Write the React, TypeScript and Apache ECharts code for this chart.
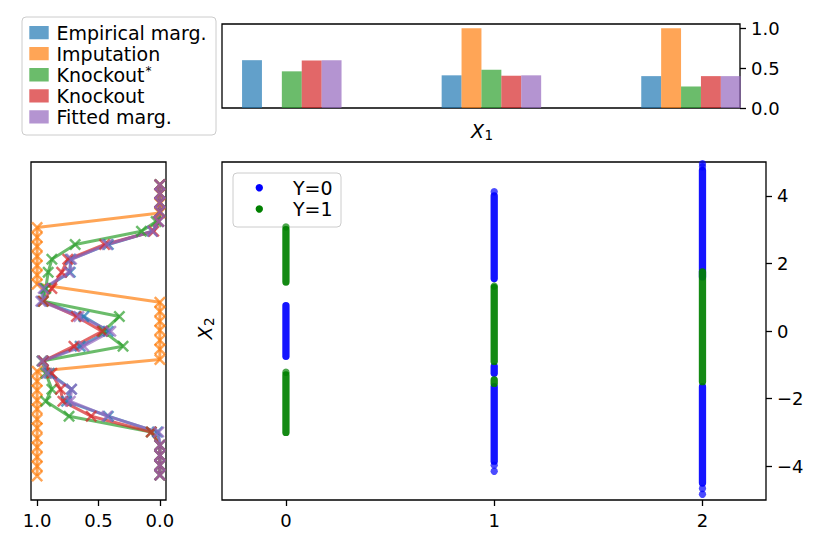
import React, { useEffect, useRef } from "react";
import * as echarts from "echarts";

const FONT = "DejaVu Sans";

// ---------- Top panel: bars per X1 category ----------
const x1Categories = [0, 1, 2];
const empiricalBars = [0.6, 0.41, 0.4];
const imputationBars = [0, 1.0, 1.0];
const knockoutStarBars = [0.46, 0.48, 0.27];
const knockoutBars = [0.595, 0.405, 0.4];
const fittedBars = [0.6, 0.41, 0.4];
const barTicksY = [0, 0.5, 1.0];

const methodNames = ["Empirical marg.", "Imputation", "Knockout*", "Knockout", "Fitted marg."];
const methodColors = [
  "rgba(31,119,180,0.7)",
  "rgba(255,127,14,0.7)",
  "rgba(44,160,44,0.7)",
  "rgba(214,39,40,0.7)",
  "rgba(148,103,189,0.7)",
];

// ---------- Left panel: profiles along X2 ----------
const profileY = [4.33, 4.07, 3.8, 3.53, 3.24, 2.95, 2.56, 2.12, 1.74, 1.26, 0.88, 0.43, -0.01, -0.45, -0.89, -1.25, -1.72, -2.08, -2.52, -2.99, -3.38, -3.68, -3.97, -4.26];
const empiricalProfile = [0, 0, 0, 0, 0.01, 0.06, 0.42, 0.73, 0.73, 0.94, 0.96, 0.62, 0.42, 0.65, 0.95, 0.9, 0.72, 0.76, 0.42, 0.02, 0, 0, 0, 0];
const knockoutStarProfile = [0, 0, 0, 0, 0.03, 0.15, 0.69, 0.88, 0.91, 0.93, 0.95, 0.33, 0.46, 0.3, 0.96, 0.93, 0.88, 0.93, 0.74, 0.07, 0, 0, 0, 0];
const knockoutProfile = [0, 0, 0, 0, 0.01, 0.05, 0.45, 0.75, 0.8, 0.88, 0.95, 0.68, 0.47, 0.7, 0.95, 0.88, 0.81, 0.79, 0.56, 0.07, 0, 0, 0, 0];
const fittedProfile = [0, 0, 0, 0, 0.01, 0.06, 0.43, 0.72, 0.74, 0.95, 0.97, 0.66, 0.4, 0.62, 0.96, 0.92, 0.72, 0.73, 0.43, 0.01, 0, 0, 0, 0];
const imputationY = [4.33, 4.05, 3.77, 3.49, 3.06, 2.77, 2.5, 2.21, 1.94, 1.66, 1.38, 0.85, 0.58, 0.29, 0.02, -0.27, -0.54, -0.84, -1.19, -1.49, -1.75, -2.05, -2.31, -2.61, -2.87, -3.17, -3.44, -3.73, -4.0, -4.29];
const imputationProfile = [0, 0, 0, 0, 1, 1, 1, 1, 1, 1, 1, 0, 0, 0, 0, 0, 0, 0, 1, 1, 1, 1, 1, 1, 1, 1, 1, 1, 1, 1];
const profileTicksX = [0, 0.5, 1.0];

// ---------- Main scatter: X1 vs X2 coloured by Y ----------
const y0StripeX = [0, 1, 1, 1, 2, 2];
const y0StripeLow = [-0.75, 1.55, -1.25, -3.85, 1.6, -4.5];
const y0StripeHigh = [0.75, 4.0, -1.05, -1.65, 4.75, -1.65];
const y0DotX = [1, 1, 1, 2, 2, 2, 2];
const y0DotY = [4.12, -3.97, -4.15, 4.95, 4.86, -4.66, -4.83];
const y1StripeX = [0, 0, 1, 1, 2];
const y1StripeLow = [1.45, -3.0, -0.9, -1.55, -1.5];
const y1StripeHigh = [3.0, -1.3, 1.28, -1.45, 1.75];
const y1DotX = [0, 0, 1];
const y1DotY = [3.08, -1.22, 1.33];
const scatterTicksX = [0, 1, 2];
const scatterTicksY = [-4, -2, 0, 2, 4];

const X_SYMBOL = "path://M0,1.45L1.45,0L10,8.55L8.55,10ZM8.55,0L10,1.45L1.45,10L0,8.55Z";

const tickStyle = { color: "#000", width: 1.3 };
const labelBase = { color: "#000", fontFamily: FONT, fontSize: 18 };

function profileSeries(name: string, ys: number[], vals: number[], color: string) {
  return {
    type: "line",
    name,
    xAxisIndex: 1,
    yAxisIndex: 1,
    data: vals.map((v, i) => [v, ys[i]]),
    symbol: X_SYMBOL,
    symbolSize: 12,
    showAllSymbol: true,
    lineStyle: { color, width: 3 },
    itemStyle: { color },
    emphasis: { disabled: true },
  };
}

function stripeSeries(name: string, xs: number[], lows: number[], highs: number[], color: string) {
  return {
    type: "custom",
    name,
    xAxisIndex: 2,
    yAxisIndex: 2,
    clip: true,
    encode: { x: 0, y: [1, 2] },
    data: xs.map((x, i) => [x, lows[i], highs[i]]),
    renderItem: (_p: any, api: any) => {
      const a = api.coord([api.value(0), api.value(1)]);
      const b = api.coord([api.value(0), api.value(2)]);
      return {
        type: "line",
        shape: { x1: a[0], y1: a[1], x2: b[0], y2: b[1] },
        style: { stroke: color, lineWidth: 7.3, lineCap: "round", opacity: 0.92 },
      };
    },
  };
}

function dotSeries(name: string, xs: number[], ys: number[], color: string) {
  return {
    type: "scatter",
    name,
    xAxisIndex: 2,
    yAxisIndex: 2,
    data: xs.map((x, i) => [x, ys[i]]),
    symbolSize: 7.3,
    itemStyle: { color, opacity: 0.7 },
    emphasis: { disabled: true },
  };
}

function barSeries(name: string, vals: number[], color: string) {
  return {
    type: "bar",
    name,
    xAxisIndex: 0,
    yAxisIndex: 0,
    data: x1Categories.map((c, i) => [c, vals[i]]),
    barWidth: 19.9,
    barGap: "0%",
    itemStyle: { color },
    emphasis: { disabled: true },
  };
}

const legendRows = [32.6, 53.6, 74.8, 96, 117];

function legendText(name: string) {
  if (name.endsWith("*")) {
    return {
      text: "{a|" + name.slice(0, -1) + "}{b|*}",
      rich: {
        a: { fontSize: 19, fontFamily: FONT, fill: "#000", lineHeight: 19 },
        b: { fontSize: 12, fontFamily: FONT, fill: "#000", lineHeight: 12, verticalAlign: "top", padding: [0, 0, 0, 1] },
      },
    };
  }
  return { text: name };
}

function buildGraphics() {
  const g: any[] = [];
  g.push({
    type: "rect",
    shape: { x: 22, y: 17, width: 194, height: 118, r: 4 },
    style: { fill: "rgba(255,255,255,0.8)", stroke: "#cccccc", lineWidth: 1 },
  });
  methodNames.forEach((n, i) => {
    g.push({
      type: "rect",
      shape: { x: 29.3, y: legendRows[i] - 6.7, width: 19.4, height: 13.3 },
      style: { fill: methodColors[i] },
    });
    g.push({
      type: "text",
      x: 56.5,
      y: legendRows[i],
      style: {
        fontSize: 19,
        fontFamily: FONT,
        fill: "#000",
        align: "left",
        verticalAlign: "middle",
        ...legendText(n),
      },
    });
  });
  // scatter legend
  g.push({
    type: "rect",
    shape: { x: 233, y: 173, width: 108, height: 54, r: 4 },
    style: { fill: "rgba(255,255,255,0.8)", stroke: "#cccccc", lineWidth: 1 },
  });
  g.push({ type: "circle", shape: { cx: 259.3, cy: 187.7, r: 3.7 }, style: { fill: "#0000ff" } });
  g.push({ type: "circle", shape: { cx: 259.3, cy: 209, r: 3.7 }, style: { fill: "#008000" } });
  g.push({
    type: "text",
    x: 293,
    y: 187.7,
    style: { text: "Y=0", fontSize: 19, fontFamily: FONT, fill: "#000", align: "left", verticalAlign: "middle" },
  });
  g.push({
    type: "text",
    x: 293,
    y: 209,
    style: { text: "Y=1", fontSize: 19, fontFamily: FONT, fill: "#000", align: "left", verticalAlign: "middle" },
  });
  // X1 label
  g.push({
    type: "text",
    x: 477.5,
    y: 130.8,
    style: { text: "X", fontSize: 19, fontStyle: "italic", fontFamily: FONT, fill: "#000", align: "center", verticalAlign: "middle" },
  });
  g.push({
    type: "text",
    x: 484.5,
    y: 135,
    style: { text: "1", fontSize: 13.5, fontFamily: FONT, fill: "#000", align: "left", verticalAlign: "middle" },
  });
  // X2 label rotated
  g.push({
    type: "group",
    x: 205,
    y: 331,
    rotation: Math.PI / 2,
    children: [
      {
        type: "text",
        x: -2,
        y: 0,
        style: { text: "X", fontSize: 19, fontStyle: "italic", fontFamily: FONT, fill: "#000", align: "center", verticalAlign: "middle" },
      },
      {
        type: "text",
        x: 5,
        y: 4.2,
        style: { text: "2", fontSize: 13.5, fontFamily: FONT, fill: "#000", align: "left", verticalAlign: "middle" },
      },
    ],
  });
  return g;
}

const gridBox = { show: true, borderColor: "#000", borderWidth: 1.3, backgroundColor: "rgba(0,0,0,0)" };
const hiddenLine = { show: false, onZero: false };

const option: any = {
  animation: false,
  textStyle: { fontFamily: FONT },
  grid: [
    { left: 222, top: 24, width: 518, height: 84, ...gridBox },
    { left: 31, top: 162, width: 135, height: 338, ...gridBox },
    { left: 222, top: 162, width: 544, height: 338, ...gridBox },
  ],
  xAxis: [
    {
      type: "value",
      gridIndex: 0,
      min: -0.3497,
      max: 2.2455,
      axisLine: hiddenLine,
      axisTick: { show: false },
      axisLabel: { show: false },
      splitLine: { show: false },
    },
    {
      type: "value",
      gridIndex: 1,
      inverse: true,
      min: -0.05,
      max: 1.05,
      position: "bottom",
      axisLine: hiddenLine,
      splitLine: { show: false },
      axisTick: { show: true, customValues: profileTicksX, length: 6, lineStyle: tickStyle },
      axisLabel: { ...labelBase, customValues: profileTicksX, margin: 11, formatter: (v: number) => v.toFixed(1) },
    },
    {
      type: "value",
      gridIndex: 2,
      min: -0.307,
      max: 2.305,
      position: "bottom",
      axisLine: hiddenLine,
      splitLine: { show: false },
      axisTick: { show: true, customValues: scatterTicksX, length: 6, lineStyle: tickStyle },
      axisLabel: { ...labelBase, customValues: scatterTicksX, margin: 11 },
    },
  ],
  yAxis: [
    {
      type: "value",
      gridIndex: 0,
      position: "right",
      min: 0,
      max: 1.054,
      axisLine: hiddenLine,
      splitLine: { show: false },
      axisTick: { show: true, customValues: barTicksY, length: 6, lineStyle: tickStyle },
      axisLabel: { ...labelBase, customValues: barTicksY, margin: 11, formatter: (v: number) => v.toFixed(1) },
    },
    {
      type: "value",
      gridIndex: 1,
      min: -5,
      max: 5,
      axisLine: hiddenLine,
      axisTick: { show: false },
      axisLabel: { show: false },
      splitLine: { show: false },
    },
    {
      type: "value",
      gridIndex: 2,
      position: "right",
      min: -5,
      max: 5,
      axisLine: hiddenLine,
      splitLine: { show: false },
      axisTick: { show: true, customValues: scatterTicksY, length: 6, lineStyle: tickStyle },
      axisLabel: {
        ...labelBase,
        customValues: scatterTicksY,
        margin: 11,
        formatter: (v: number) => String(v).replace("-", "\u2212"),
      },
    },
  ],
  series: [
    barSeries("Empirical marg.", empiricalBars, methodColors[0]),
    barSeries("Imputation", imputationBars, methodColors[1]),
    barSeries("Knockout*", knockoutStarBars, methodColors[2]),
    barSeries("Knockout", knockoutBars, methodColors[3]),
    barSeries("Fitted marg.", fittedBars, methodColors[4]),
    profileSeries("Empirical marg. profile", profileY, empiricalProfile, methodColors[0]),
    profileSeries("Imputation profile", imputationY, imputationProfile, methodColors[1]),
    profileSeries("Knockout* profile", profileY, knockoutStarProfile, methodColors[2]),
    profileSeries("Knockout profile", profileY, knockoutProfile, methodColors[3]),
    profileSeries("Fitted marg. profile", profileY, fittedProfile, methodColors[4]),
    stripeSeries("Y=0 samples", y0StripeX, y0StripeLow, y0StripeHigh, "#0000ff"),
    dotSeries("Y=0", y0DotX, y0DotY, "#0000ff"),
    stripeSeries("Y=1 samples", y1StripeX, y1StripeLow, y1StripeHigh, "#008000"),
    dotSeries("Y=1", y1DotX, y1DotY, "#008000"),
  ],
  graphic: buildGraphics(),
};

export default function App() {
  const ref = useRef<HTMLDivElement>(null);
  useEffect(() => {
    document.body.style.margin = "0";
    const chart = echarts.init(ref.current as HTMLDivElement, null, { renderer: "svg" });
    chart.setOption(option);
    return () => chart.dispose();
  }, []);
  return <div ref={ref} style={{ width: 830, height: 554 }} />;
}
